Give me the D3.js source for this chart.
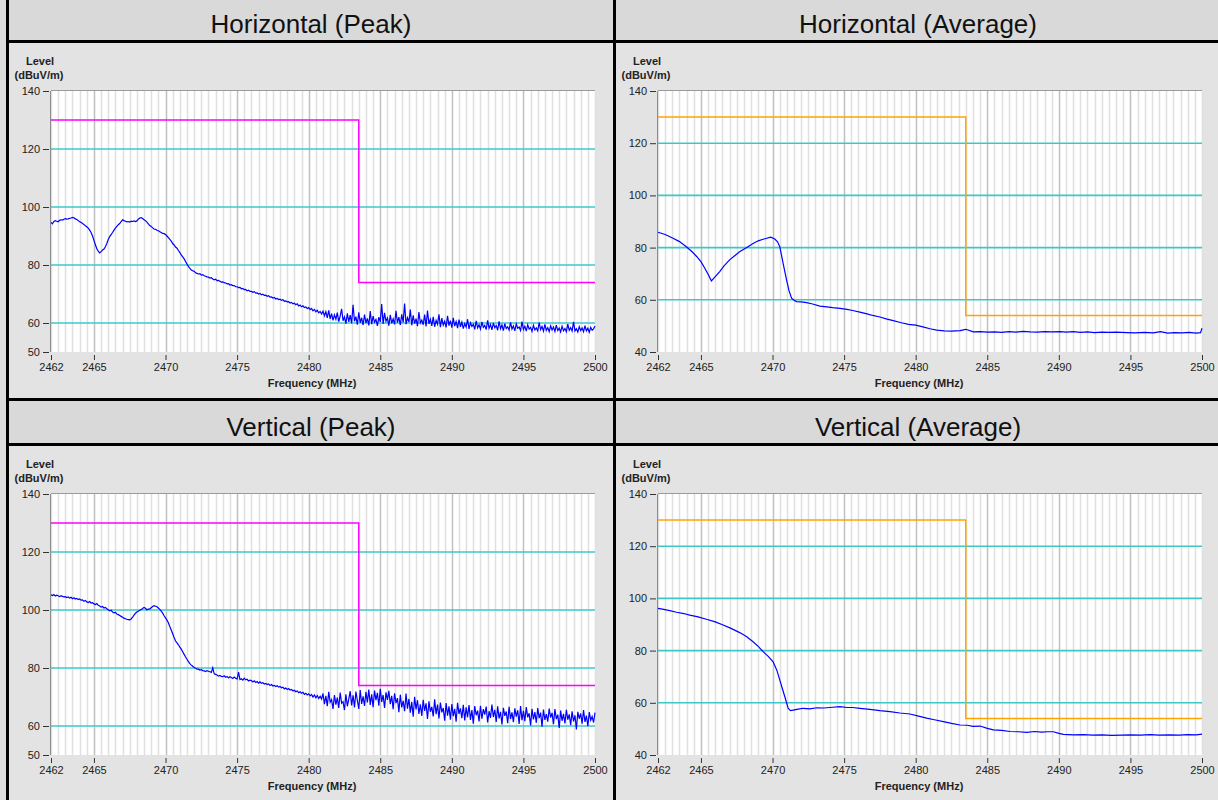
<!DOCTYPE html>
<html><head><meta charset="utf-8">
<script src="https://cdn.jsdelivr.net/npm/d3@7"></script>
<style>
body{margin:0;background:#fff;overflow:hidden;}
svg{display:block;}
text{font-family:Arial,"Liberation Sans",sans-serif;}
</style>
</head><body>
<svg id="c" width="1218" height="800"></svg>
<script>
// ---------------- DATA ----------------
const panelTitles = ["Horizontal (Peak)", "Horizontal (Average)", "Vertical (Peak)", "Vertical (Average)"];
const xTicks = [2462, 2465, 2470, 2475, 2480, 2485, 2490, 2495, 2500];
const peakYTicks = [50, 60, 80, 100, 120, 140];
const avgYTicks = [40, 60, 80, 100, 120, 140];
const peakLimit = [[2462, 130], [2483.5, 130], [2483.5, 74], [2500, 74]];
const avgLimit = [[2462, 130], [2483.5, 130], [2483.5, 54], [2500, 54]];
const yLabel = ["Level", "(dBuV/m)"];
const xLabel = "Frequency (MHz)";

// peak traces: one value every 0.1 MHz from 2462 MHz
const peakStart = 2462, peakStep = 0.1;
const horizPeak = [
94.7,94.2,95.0,95.3,95.1,94.9,95.4,95.6,95.5,95.8,
96.0,95.8,95.9,96.1,96.2,96.4,96.3,95.9,95.7,95.3,
94.9,94.7,94.3,94.0,93.5,93.2,92.7,92.0,91.2,90.0,
88.5,87.0,85.6,84.8,84.2,84.6,85.2,85.5,86.3,87.4,
88.8,89.8,90.5,91.2,92.0,92.7,93.3,93.9,94.3,95.0,
95.6,95.3,95.1,94.9,95.0,94.8,95.1,95.0,95.2,95.0,
95.2,95.8,96.2,96.3,96.0,95.6,95.3,94.8,94.2,93.6,
93.3,92.8,92.4,92.3,92.0,91.8,91.5,91.2,90.9,90.8,
90.5,90.0,89.4,88.8,88.2,87.4,86.9,86.2,85.8,85.0,
84.3,83.5,82.8,82.1,81.2,80.3,79.5,78.8,78.3,78.0,
77.8,77.3,77.1,76.9,77.0,76.5,76.7,76.3,76.1,75.9,
75.8,75.5,75.6,75.2,74.9,75.1,74.6,74.7,74.4,74.1,
74.2,73.9,73.8,73.5,73.6,73.1,73.2,72.9,72.9,72.5,
72.5,72.2,72.3,71.8,71.9,71.5,71.6,71.1,71.3,70.9,
70.9,70.6,70.8,70.3,70.4,70.0,70.2,69.7,69.9,69.5,
69.6,69.2,69.4,68.9,69.0,68.6,68.8,68.3,68.5,68.1,
68.2,67.8,68.0,67.5,67.6,67.3,67.4,66.9,67.1,66.6,
66.8,66.3,66.6,65.9,66.2,65.6,65.9,65.3,65.5,65.0,
65.3,64.6,65.0,64.2,64.7,63.9,64.4,63.5,64.0,63.1,
64.1,62.5,63.9,61.8,64.4,61.4,63.2,60.9,62.8,61.3,
63.6,60.5,62.4,64.9,60.8,62.1,59.8,63.3,60.4,62.7,
59.9,66.3,60.6,62.2,59.4,63.7,60.1,61.8,59.3,62.9,
60.0,61.6,59.2,64.1,59.6,62.4,60.3,61.2,59.0,62.0,
60.4,66.5,59.7,63.5,60.6,61.7,59.1,62.8,59.9,61.4,
59.5,64.2,60.1,62.0,59.3,63.0,60.2,66.7,59.6,61.8,
60.3,64.6,59.2,62.6,59.8,61.5,58.9,63.8,60.0,61.0,
59.4,62.9,58.8,64.3,59.7,61.3,59.0,62.1,58.7,60.9,
59.6,63.0,58.6,61.7,59.3,60.6,58.5,62.5,59.1,60.8,
58.4,61.8,58.9,60.5,58.2,61.2,58.7,60.3,58.1,59.8,
58.6,61.3,58.0,60.1,58.8,59.6,57.8,60.7,58.3,59.4,
57.9,60.4,58.5,59.2,57.7,60.9,58.2,59.5,57.6,60.0,
58.4,59.1,57.5,60.6,58.0,59.3,57.4,59.8,58.1,58.7,
57.6,60.2,57.9,59.0,57.3,59.7,58.2,58.6,57.4,60.5,
57.8,58.9,57.2,59.4,57.9,58.5,57.1,59.2,57.6,58.3,
57.3,60.1,57.7,58.8,57.2,59.5,57.5,58.4,57.0,59.0,
57.6,58.6,57.1,59.3,57.4,58.2,56.9,58.9,57.3,58.1,
57.0,59.6,57.5,58.4,57.2,60.4,57.3,58.0,56.9,58.7,
57.4,58.3,57.0,59.1,57.3,58.2,56.8,58.5,57.5,58.0,
59.0];

const vertPeak = [
105.2,105.0,105.3,104.8,105.1,104.9,104.6,104.9,104.7,104.5,
104.6,104.3,104.5,104.1,104.4,103.9,104.2,103.8,104.0,103.6,
103.8,103.4,103.5,103.0,103.3,102.8,102.6,102.9,102.4,102.5,
102.1,101.9,102.2,101.6,101.4,101.0,101.2,100.7,100.9,100.4,
100.1,99.7,99.9,99.3,99.0,99.2,98.6,98.4,98.1,97.8,
97.5,97.2,97.0,96.8,96.7,96.6,96.9,97.5,98.2,98.9,
99.3,99.6,99.9,100.2,100.5,100.9,100.6,100.1,100.3,100.4,
100.8,101.2,101.5,101.3,101.1,100.7,100.2,99.6,98.9,98.0,
97.3,96.5,95.6,94.3,93.1,91.8,90.5,89.3,88.7,88.0,
87.2,86.5,85.6,84.7,83.8,83.0,82.2,81.5,81.0,80.6,
80.2,79.9,79.6,79.6,79.3,79.4,79.1,79.0,78.8,79.1,
78.9,78.7,78.5,80.1,78.0,77.8,77.6,77.2,77.4,77.1,
77.0,77.3,76.8,77.1,76.6,77.0,76.7,76.4,76.9,76.5,
76.2,78.6,76.0,76.3,75.8,76.5,75.9,76.1,75.5,75.8,
75.7,75.2,75.6,75.0,75.3,74.8,75.2,74.7,74.9,74.5,
74.7,74.3,74.5,74.0,74.3,73.8,74.0,73.6,73.9,73.4,
73.6,73.2,73.4,72.8,73.1,72.6,72.9,72.4,72.6,72.1,
72.3,71.8,72.1,71.5,71.8,71.3,71.6,70.9,71.3,70.7,
71.1,70.4,70.9,70.0,70.7,69.7,70.5,69.5,70.3,69.3,
71.2,67.5,70.4,66.8,71.8,68.2,69.1,65.9,70.7,67.4,
69.8,66.2,71.5,67.9,68.4,65.5,70.9,66.8,69.3,72.0,
67.1,70.6,66.4,71.9,68.8,65.9,72.4,67.6,70.2,66.9,
71.8,68.1,72.6,67.3,70.9,66.5,72.2,68.9,71.4,67.0,
72.8,68.3,70.7,66.2,71.6,69.0,72.1,67.5,70.4,65.8,
71.3,67.9,69.6,64.8,70.8,66.4,68.7,65.1,71.2,66.0,
69.4,64.6,68.3,63.2,70.1,65.7,68.9,64.2,67.5,63.5,
69.0,65.2,67.8,62.4,68.5,64.9,66.6,63.3,69.2,64.1,
67.4,62.6,68.1,64.7,66.2,61.8,67.9,63.6,66.8,62.2,
67.6,63.4,65.9,61.5,68.0,64.2,66.1,62.7,67.3,61.9,
66.4,63.0,67.2,62.1,65.5,60.8,66.9,63.7,65.3,61.6,
67.0,62.5,65.8,63.9,66.7,61.2,65.1,62.8,67.4,63.1,
65.6,61.4,66.8,62.6,64.9,60.5,66.3,63.5,65.0,61.0,
66.6,62.4,64.7,61.3,66.1,63.2,65.4,60.7,66.9,62.0,
65.2,61.7,66.5,63.0,64.4,60.2,65.9,62.3,64.8,61.1,
66.2,62.7,64.6,59.8,65.7,62.1,64.1,61.5,66.0,62.9,
64.5,60.6,65.8,62.4,63.9,59.3,65.3,61.8,64.2,60.9,
65.6,62.2,64.0,60.3,65.1,61.6,63.7,58.8,64.9,62.5,
64.3,60.8,65.5,61.4,63.6,59.9,64.8,62.0,63.3,61.2,
64.6];

// average traces: [frequency MHz, level dBuV/m]
const horizAvg = [
[2462,85.9],[2462.5,85.0],[2463.05,83.6],[2463.5,82.3],[2464.0,80.2],[2464.4,78.3],[2464.7,76.6],
[2465.0,74.6],[2465.27,72.1],[2465.5,69.8],[2465.73,67.2],[2466.0,68.9],[2466.31,70.8],[2466.6,72.9],
[2467.0,75.3],[2467.4,77.1],[2467.7,78.4],[2468.2,80.0],[2468.64,81.6],[2469.0,82.6],[2469.34,83.2],
[2469.6,83.6],[2469.88,84.0],[2470.16,83.3],[2470.35,82.2],[2470.51,80.3],[2470.74,74.0],[2470.98,67.6],
[2471.15,63.5],[2471.33,60.6],[2471.5,59.8],[2471.68,59.3],[2472.0,59.2],[2472.38,58.9],[2472.8,58.4],
[2473.31,57.6],[2473.8,57.3],[2474.2,57.0],[2474.71,56.7],[2475.2,56.3],[2475.6,55.9],[2476.1,55.3],
[2476.6,54.6],[2477.0,54.0],[2477.5,53.4],[2478.0,52.6],[2478.43,52.0],[2479.0,51.2],[2479.5,50.6],
[2480.0,50.3],[2480.5,49.6],[2481.0,48.9],[2481.47,48.4],[2482.0,48.1],[2482.5,48.0],[2483.1,48.2],
[2483.5,48.7],[2484.03,47.7],[2484.5,47.8],[2485,47.6],[2485.5,47.7],[2486,47.5],[2486.5,47.8],
[2487,47.6],[2487.5,47.9],[2488,47.7],[2488.5,47.6],[2489,47.8],[2489.5,47.7],[2490.1,47.8],
[2490.5,47.6],[2491,47.8],[2491.5,47.5],[2492,47.7],[2492.5,47.4],[2493,47.6],[2493.5,47.5],
[2494,47.6],[2494.75,47.4],[2495.3,47.3],[2496,47.5],[2496.6,47.3],[2497.1,47.8],[2497.6,47.2],
[2498.1,47.4],[2498.6,47.3],[2499.1,47.5],[2499.6,47.2],[2499.9,47.4],[2500,49.1]];

const vertAvg = [
[2462,96.2],[2462.4,95.8],[2462.82,95.3],[2463.3,94.7],[2463.8,94.2],[2464.22,93.6],[2464.8,92.9],
[2465.38,92.0],[2466.0,91.0],[2466.55,89.8],[2467.1,88.5],[2467.71,86.9],[2468.2,85.3],[2468.64,83.4],
[2469.0,81.6],[2469.34,79.6],[2469.7,77.8],[2470.04,75.7],[2470.3,72.5],[2470.51,68.7],[2470.7,65.2],
[2470.86,62.3],[2471.09,57.9],[2471.25,57.0],[2471.44,57.2],[2471.8,57.6],[2472.14,57.9],[2472.6,57.7],
[2473.1,58.1],[2473.6,58.0],[2474.2,58.3],[2474.71,58.5],[2475.2,58.2],[2475.6,58.2],[2476.1,57.9],
[2476.8,57.5],[2477.5,57.0],[2478.2,56.6],[2478.9,56.1],[2479.6,55.7],[2480.2,54.9],[2480.77,54.1],
[2481.3,53.5],[2481.94,52.8],[2482.5,52.1],[2483.1,51.5],[2483.6,51.4],[2484.0,51.0],[2484.5,51.1],
[2485.0,50.2],[2485.43,49.6],[2486.0,49.4],[2486.6,49.0],[2487.2,48.9],[2487.76,48.7],[2488.3,49.0],
[2488.8,48.8],[2489.2,48.9],[2489.62,48.9],[2490.0,48.3],[2490.32,47.9],[2491,47.7],[2491.7,47.8],
[2492.4,47.6],[2493,47.7],[2493.7,47.5],[2494.4,47.6],[2495,47.7],[2495.7,47.6],[2496.4,47.8],
[2497,47.6],[2497.7,47.7],[2498.4,47.6],[2499,47.8],[2499.6,47.7],[2500,48.0]];

// ---------------- DRAW ----------------
const svg = d3.select("#c");
const W = 1218, H = 800;
svg.append("rect").attr("width", W).attr("height", H).attr("fill", "#dcdcdc");

const colX = [9, 616], colW = 604;
const rowY = [-2, 401];
const headerH = 42, borderW = 3, chartH = 355;

const toPts = arr => arr.map((v, i) => [peakStart + i * peakStep, v]);
const panels = [
  {title: panelTitles[0], col: 0, row: 0, yDom: [50, 140], yTicks: peakYTicks, limit: peakLimit, limitColor: "#ff00ff", trace: toPts(horizPeak)},
  {title: panelTitles[1], col: 1, row: 0, yDom: [40, 140], yTicks: avgYTicks, limit: avgLimit, limitColor: "#ffa500", trace: horizAvg},
  {title: panelTitles[2], col: 0, row: 1, yDom: [50, 140], yTicks: peakYTicks, limit: peakLimit, limitColor: "#ff00ff", trace: toPts(vertPeak)},
  {title: panelTitles[3], col: 1, row: 1, yDom: [40, 140], yTicks: avgYTicks, limit: avgLimit, limitColor: "#ffa500", trace: vertAvg}
];

// table cells
panels.forEach(p => {
  const x0 = colX[p.col], y0 = rowY[p.row];
  svg.append("rect").attr("x", x0).attr("y", y0).attr("width", colW).attr("height", headerH).attr("fill", "#d9d9d9");
  svg.append("rect").attr("x", x0).attr("y", y0 + headerH + borderW).attr("width", colW).attr("height", chartH).attr("fill", "#e3e3e3");
  svg.append("rect").attr("x", x0).attr("y", y0 + headerH).attr("width", colW).attr("height", borderW).attr("fill", "#000");
});
// horizontal separator between rows
svg.append("rect").attr("x", colX[0] - borderW).attr("y", rowY[1] - borderW).attr("width", W).attr("height", borderW).attr("fill", "#000");
// vertical separators
[colX[0] - borderW, colX[1] - borderW].forEach(x => svg.append("rect").attr("x", x).attr("y", 0).attr("width", borderW).attr("height", H).attr("fill", "#000"));

const gridMinor = d3.range(2462, 2500.01, 0.5);

panels.forEach(p => {
  const x0 = colX[p.col], y0 = rowY[p.row];
  const L = x0 + 42, R = L + 544, T = y0 + 93, B = T + 261;
  const x = d3.scaleLinear().domain([2462, 2500]).range([L, R]);
  const y = d3.scaleLinear().domain(p.yDom).range([B, T]);
  const g = svg.append("g");

  // title
  g.append("text").attr("x", x0 + colW / 2).attr("y", y0 + 35).attr("text-anchor", "middle")
    .attr("font-size", "26px").attr("fill", "#111").text(p.title);

  // plot background
  g.append("rect").attr("x", L).attr("y", T).attr("width", R - L).attr("height", B - T).attr("fill", "#fff");

  // vertical grid
  g.append("g").selectAll("line").data(gridMinor).join("line")
    .attr("x1", d => Math.round(x(d)) + 0.5).attr("x2", d => Math.round(x(d)) + 0.5)
    .attr("y1", T).attr("y2", B)
    .attr("stroke", d => (Math.abs(d % 5) < 1e-6 && d !== 2500) ? "#c0c0c0" : "#e0e0e0")
    .attr("stroke-width", 1.5);

  // horizontal cyan grid
  g.append("g").selectAll("line").data(p.yTicks.filter(v => v !== p.yDom[0] && v !== p.yDom[1])).join("line")
    .attr("x1", L).attr("x2", R).attr("y1", d => y(d)).attr("y2", d => y(d))
    .attr("stroke", "#3cc8c8").attr("stroke-width", 1.6);

  // frame
  g.append("line").attr("x1", L - 0.5).attr("x2", L - 0.5).attr("y1", T).attr("y2", B).attr("stroke", "#8c8c8c").attr("stroke-width", 1);
  g.append("line").attr("x1", L).attr("x2", R).attr("y1", T - 0.5).attr("y2", T - 0.5).attr("stroke", "#9a9a9a").attr("stroke-width", 1);

  // limit line
  g.append("path").datum(p.limit)
    .attr("d", d3.line().x(d => x(d[0])).y(d => y(d[1])))
    .attr("fill", "none").attr("stroke", p.limitColor).attr("stroke-width", 1.5);

  // trace
  g.append("path").datum(p.trace)
    .attr("d", d3.line().x(d => x(d[0])).y(d => y(d[1])))
    .attr("fill", "none").attr("stroke", "#0000ff").attr("stroke-width", 1.2);

  // y axis
  const ya = d3.axisLeft(y).tickValues(p.yTicks).tickSize(6).tickPadding(3).tickFormat(d3.format("d"));
  const yg = g.append("g").attr("transform", `translate(${L - 2},0)`).call(ya);
  yg.select(".domain").remove();
  yg.selectAll("line").attr("stroke", "#333");
  yg.selectAll("text").attr("font-size", "11px").attr("fill", "#222").attr("font-family", "Arial, 'Liberation Sans', sans-serif");

  // x axis
  const xa = d3.axisBottom(x).tickValues(xTicks).tickSize(5).tickPadding(3).tickFormat(d3.format("d"));
  const xg = g.append("g").attr("transform", `translate(0,${B + 3})`).call(xa);
  xg.select(".domain").remove();
  xg.selectAll("line").attr("stroke", "#333");
  xg.selectAll("text").attr("font-size", "11px").attr("fill", "#222").attr("font-family", "Arial, 'Liberation Sans', sans-serif");

  // axis labels
  g.append("text").attr("x", L - 11).attr("y", T - 26).attr("text-anchor", "middle")
    .attr("font-size", "11px").attr("font-weight", "bold").attr("fill", "#222").text(yLabel[0]);
  g.append("text").attr("x", L - 12).attr("y", T - 12).attr("text-anchor", "middle")
    .attr("font-size", "11px").attr("font-weight", "bold").attr("fill", "#222").text(yLabel[1]);
  g.append("text").attr("x", (L + R) / 2 - 11).attr("y", B + 35).attr("text-anchor", "middle")
    .attr("font-size", "11px").attr("font-weight", "bold").attr("fill", "#222").text(xLabel);
});
</script>
</body></html>
